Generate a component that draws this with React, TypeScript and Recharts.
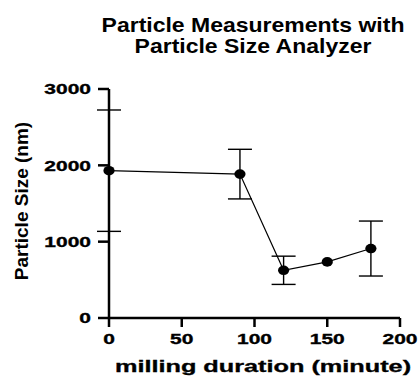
import React from "react";
import { LineChart, Line, XAxis, YAxis, ErrorBar } from "recharts";

const minutes = [0, 90, 120, 150, 180];
const sizeMean = [1930, 1885, 625, 735, 910];
// no visible error bar at 150 min
const sizeErr = [795, 325, 185, null, 360];

const xTicks = [0, 50, 100, 150, 200];
const yTicks = [0, 1000, 2000, 3000];

const titleLines = ["Particle Measurements with", "Particle Size Analyzer"];

const FONT = "'Liberation Sans', Arial, sans-serif";

const data = minutes.map((m, i) => ({
  minute: m,
  size: sizeMean[i],
  err: sizeErr[i],
}));

// the original text is set in a wide, heavy face: stretch it sideways
function XTick({ x, y, payload }: any) {
  return (
    <g transform={`translate(${x},${y})`}>
      <text
        transform="scale(1.4,1)"
        textAnchor="middle"
        dy="0.72em"
        fontFamily={FONT}
        fontWeight="bold"
        fontSize={15}
        fill="#000"
        stroke="#000"
        strokeWidth={0.35}
      >
        {payload.value}
      </text>
    </g>
  );
}

function YTick({ x, y, payload }: any) {
  return (
    <g transform={`translate(${x},${y})`}>
      <text
        transform="scale(1.4,1)"
        textAnchor="end"
        dy="0.36em"
        fontFamily={FONT}
        fontWeight="bold"
        fontSize={15}
        fill="#000"
        stroke="#000"
        strokeWidth={0.35}
      >
        {payload.value}
      </text>
    </g>
  );
}

function Dot({ cx, cy }: any) {
  if (cx == null || cy == null) return null;
  return <ellipse cx={cx} cy={cy} rx={5.6} ry={4.8} fill="#000" />;
}

export default function App() {
  return (
    <div
      style={{
        position: "absolute",
        left: 0,
        top: 0,
        width: 419,
        height: 376,
        background: "#fff",
      }}
    >
      <LineChart
        width={419}
        height={376}
        data={data}
        margin={{ top: 89, right: 19, bottom: 18, left: 49 }}
      >
        <XAxis
          dataKey="minute"
          type="number"
          domain={[0, 200]}
          ticks={xTicks}
          height={40}
          tickSize={9}
          tickMargin={6}
          tick={<XTick />}
          axisLine={{ stroke: "#000", strokeWidth: 2.5 }}
          tickLine={{ stroke: "#000", strokeWidth: 2.5 }}
        />
        <YAxis
          type="number"
          domain={[0, 3000]}
          ticks={yTicks}
          width={60}
          tickSize={11}
          tickMargin={7}
          tick={<YTick />}
          axisLine={{ stroke: "#000", strokeWidth: 2.5 }}
          tickLine={{ stroke: "#000", strokeWidth: 2.5 }}
        />
        <Line
          dataKey="size"
          stroke="#000"
          strokeWidth={1.2}
          dot={<Dot />}
          activeDot={false}
          isAnimationActive={false}
        >
          <ErrorBar
            dataKey="err"
            direction="y"
            width={12}
            stroke="#000"
            strokeWidth={1.4}
            isAnimationActive={false}
          />
        </Line>
      </LineChart>
      <svg
        width={419}
        height={376}
        style={{ position: "absolute", left: 0, top: 0, pointerEvents: "none" }}
      >
        {titleLines.map((t, i) => (
          <g key={t} transform={`translate(253,${32 + i * 21})`}>
            <text
              transform="scale(1.15,1)"
              textAnchor="middle"
              fontFamily={FONT}
              fontWeight="bold"
              fontSize={20}
              fill="#000"
            >
              {t}
            </text>
          </g>
        ))}
        <g transform="translate(28,201) rotate(-90)">
          <text
            textAnchor="middle"
            fontFamily={FONT}
            fontWeight="bold"
            fontSize={19}
            fill="#000"
          >
            Particle Size (nm)
          </text>
        </g>
        <g transform="translate(263,372)">
          <text
            transform="scale(1.58,1)"
            textAnchor="middle"
            fontFamily={FONT}
            fontWeight="bold"
            fontSize={16}
            fill="#000"
            stroke="#000"
            strokeWidth={0.3}
          >
            milling duration (minute)
          </text>
        </g>
      </svg>
    </div>
  );
}
